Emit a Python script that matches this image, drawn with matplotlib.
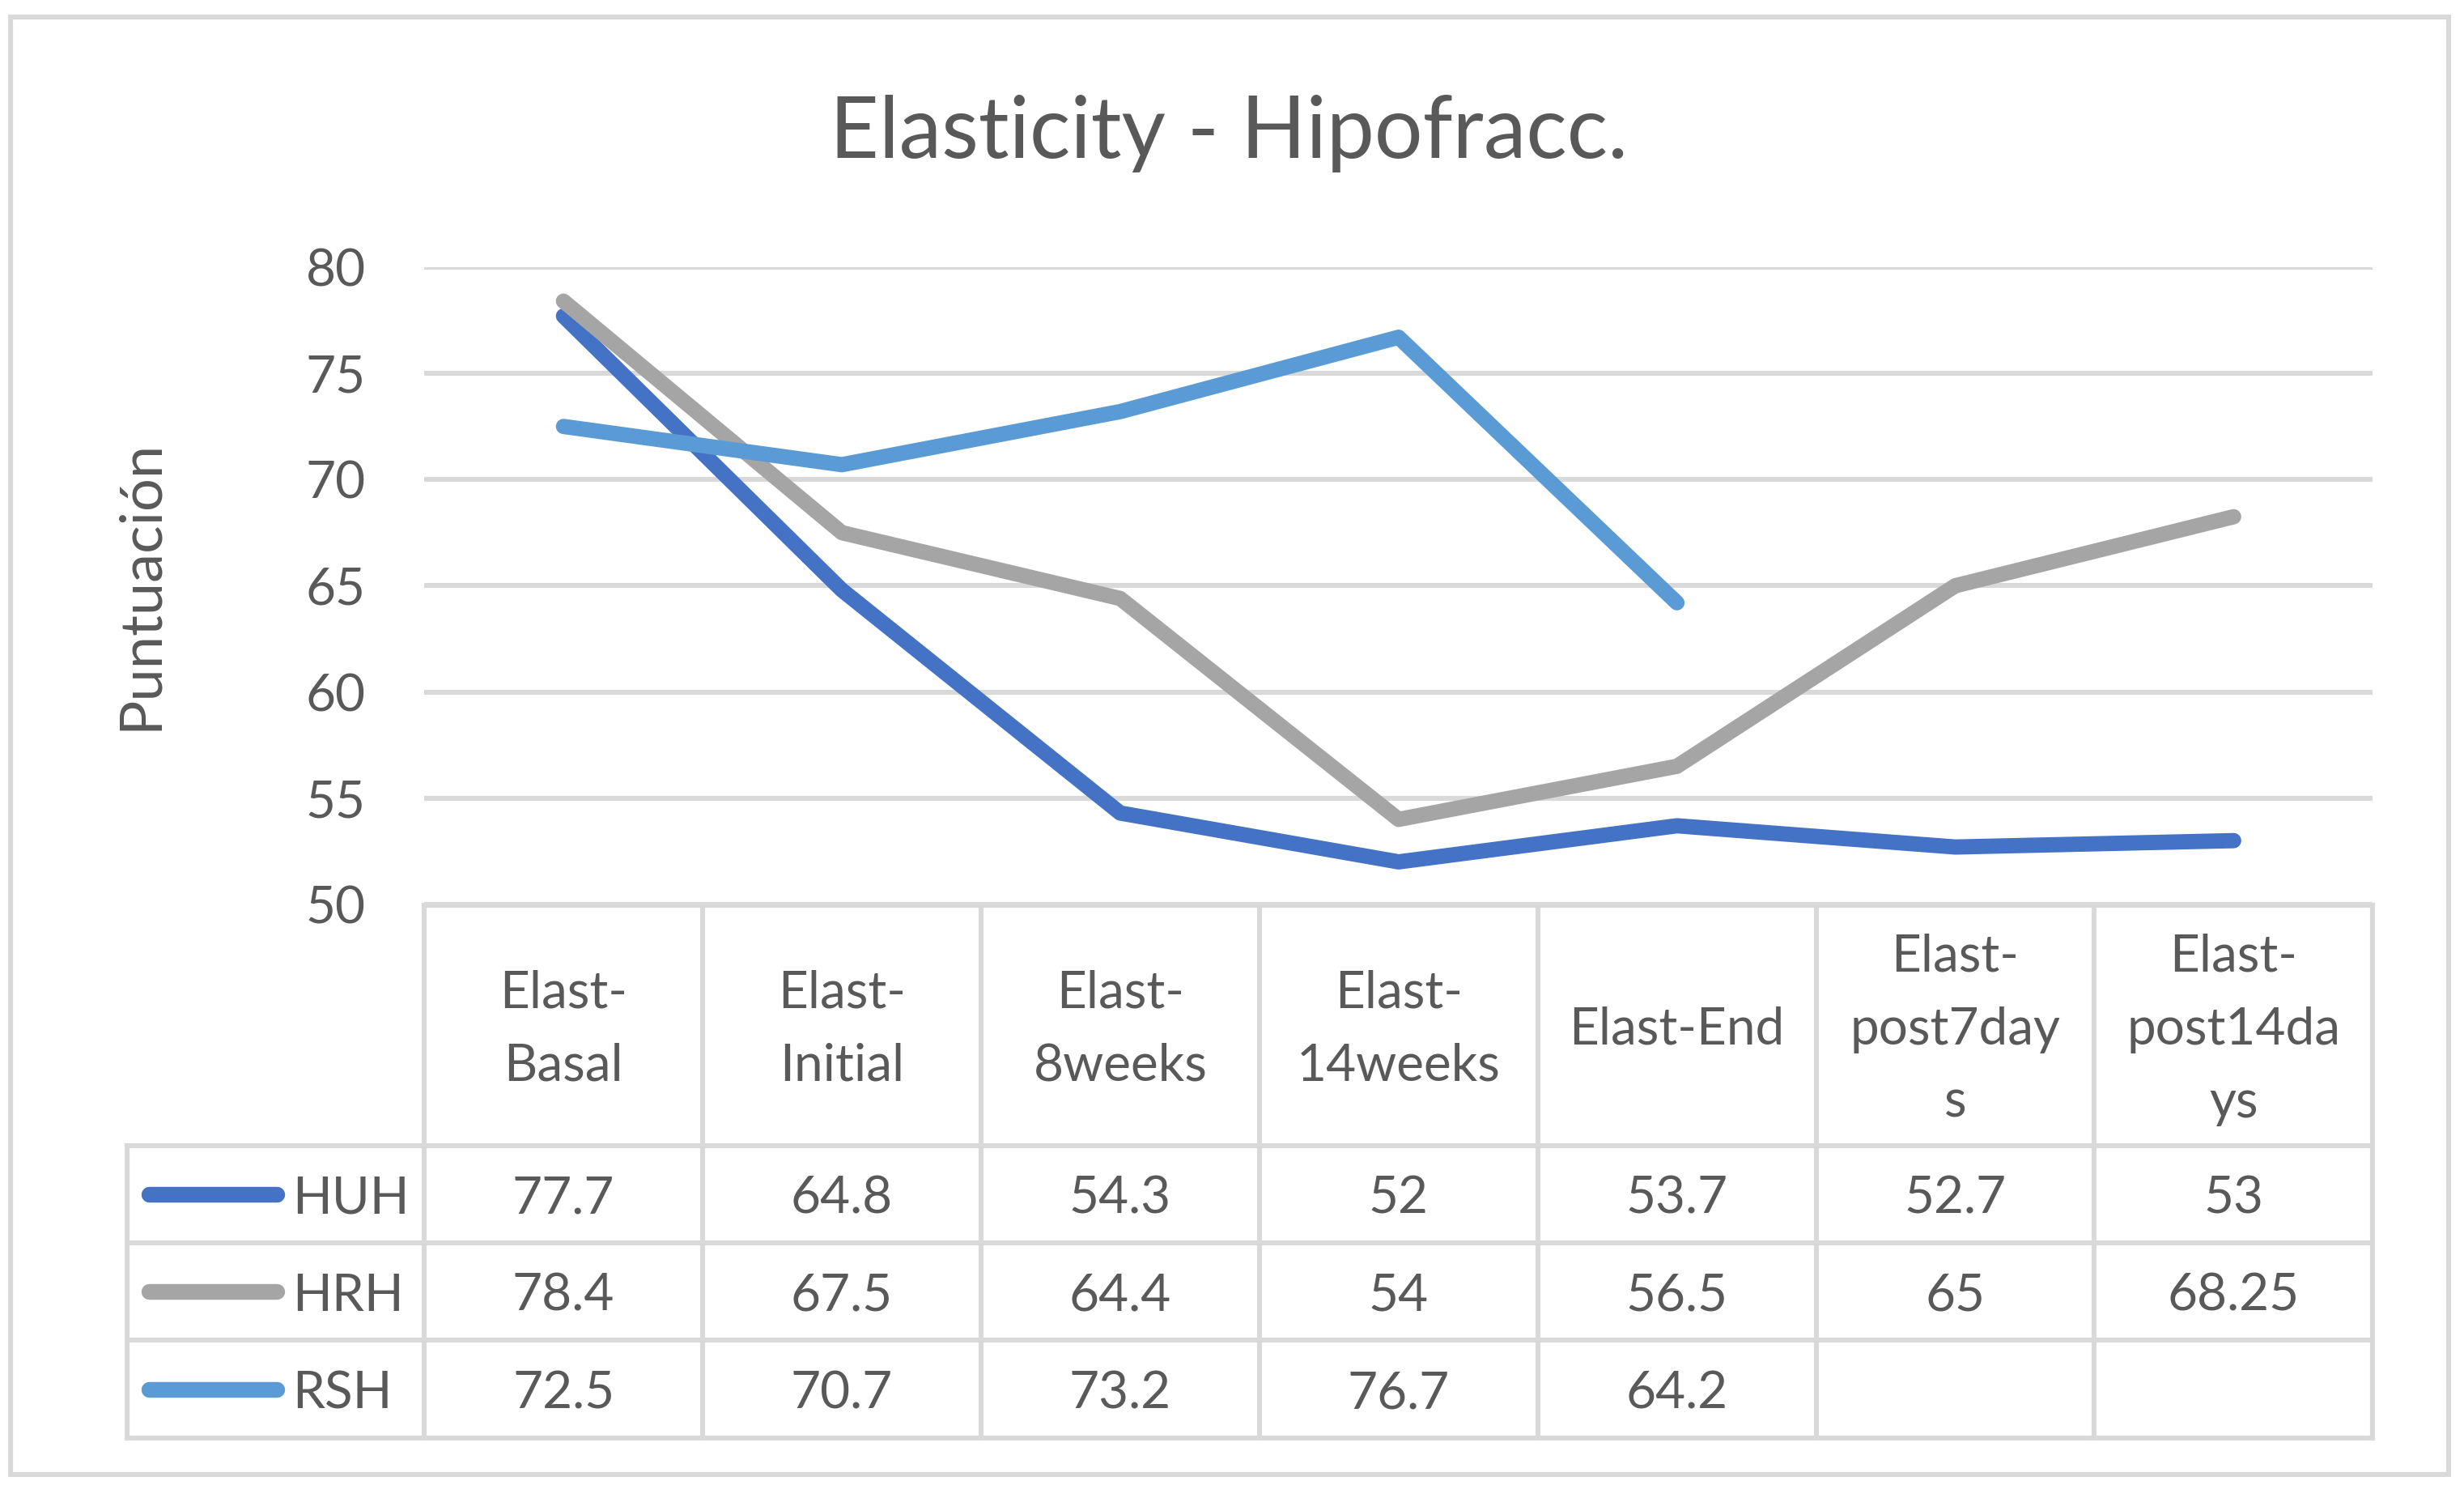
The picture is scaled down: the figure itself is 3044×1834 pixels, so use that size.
import numpy as np
import matplotlib.pyplot as plt
import matplotlib.transforms as mtransforms
from matplotlib.patches import Rectangle

# Datos del gráfico
categorias = ["Elast-\nBasal", "Elast-\nInitial", "Elast-\n8weeks", "Elast-\n14weeks",
              "Elast-End", "Elast-\npost7day\ns", "Elast-\npost14da\nys"]
series = ["HUH", "HRH", "RSH"]
huh = [77.7, 64.8, 54.3, 52, 53.7, 52.7, 53]
hrh = [78.4, 67.5, 64.4, 54, 56.5, 65, 68.25]
rsh = [72.5, 70.7, 73.2, 76.7, 64.2, np.nan, np.nan]
yticks = [50, 55, 60, 65, 70, 75, 80]

colores = ['#4472C4', '#A5A5A5', '#5B9BD5']
gris_texto = '#595959'
gris_linea = '#D9D9D9'

plt.rcParams['font.family'] = ['Lato', 'DejaVu Sans']

fig = plt.figure(figsize=(15.22, 9.17), dpi=200)
ax = fig.add_axes([0.1722, 0.3910, 0.9630 - 0.1722, 0.8201 - 0.3910])

x = np.arange(len(categorias))
for valores, color in zip([huh, hrh, rsh], colores):
    ax.plot(x, valores, color=color, linewidth=6.8,
            solid_capstyle='round', solid_joinstyle='round', zorder=3)

ax.set_xlim(-0.5, len(categorias) - 0.5)
ax.set_ylim(50, 80)
ax.set_yticks(yticks)
ax.set_xticks([])
ax.grid(axis='y', color=gris_linea, linewidth=2.2)
ax.set_axisbelow(True)
for s in ax.spines.values():
    s.set_visible(False)
ax.tick_params(axis='y', length=0, pad=26, labelsize=23, labelcolor=gris_texto)

# Título y etiqueta del eje
fig.text(0.4987, 0.8937, "Elasticity - Hipofracc.", ha='center', va='baseline',
         fontsize=38, color=gris_texto)
fig.text(0.0568, 0.6063, "Puntuación", rotation=90, ha='center', va='center',
         fontsize=26, color=gris_texto)

# Tabla de datos debajo del gráfico
trans = mtransforms.blended_transform_factory(ax.transData, fig.transFigure)
y_top, y_head = 0.3905, 0.2286
y_filas = [0.2286, 0.1630, 0.0974, 0.0317]
x_leyenda = -1.567
x_der = len(categorias) - 0.5

linea = dict(color=gris_linea, linewidth=2.2, transform=trans, clip_on=False,
             solid_capstyle='projecting')
ax.plot([-0.5, x_der], [y_top, y_top], **linea)
for yf in y_filas:
    ax.plot([x_leyenda, x_der], [yf, yf], **linea)
for xc in np.arange(-0.5, x_der + 0.01, 1):
    ax.plot([xc, xc], [y_top, y_filas[-1]], **linea)
ax.plot([x_leyenda, x_leyenda], [y_head, y_filas[-1]], **linea)

# Encabezados de columna
sep = 0.049
y_centro_head = (y_top + y_head) / 2
for i, cat in enumerate(categorias):
    lineas = cat.split("\n")
    n = len(lineas)
    for j, txt in enumerate(lineas):
        yy = y_centro_head + (n - 1) / 2 * sep - j * sep
        ax.text(i, yy, txt, ha='center', va='center_baseline', fontsize=23,
                color=gris_texto, transform=trans, clip_on=False)

# Filas con clave de leyenda y valores
for k, (nombre, valores, color) in enumerate(zip(series, [huh, hrh, rsh], colores)):
    yc = (y_filas[k] + y_filas[k + 1]) / 2
    ax.plot([-1.488, -1.03], [yc, yc], color=color, linewidth=7,
            solid_capstyle='round', transform=trans, clip_on=False)
    ax.text(-0.974, yc, nombre, ha='left', va='center_baseline', fontsize=23,
            color=gris_texto, transform=trans, clip_on=False)
    for i, v in enumerate(valores):
        if np.isnan(v):
            continue
        ax.text(i, yc, f"{v:g}", ha='center', va='center_baseline', fontsize=23,
                color=gris_texto, transform=trans, clip_on=False)

# Borde exterior del gráfico
fig.add_artist(Rectangle((0.0043, 0.0071), 0.9895, 0.9814, transform=fig.transFigure,
                         fill=False, edgecolor=gris_linea, linewidth=2.2))

ax.set_xlim(-0.5, len(categorias) - 0.5)
ax.set_ylim(50, 80)

plt.savefig("out.png", dpi=200)
